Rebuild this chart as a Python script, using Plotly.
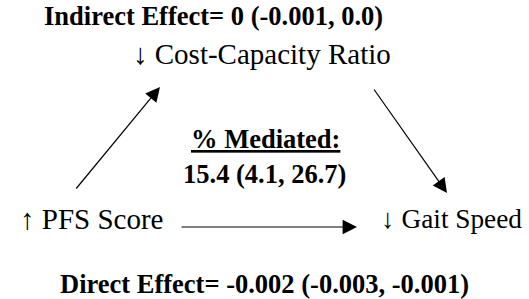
import plotly.graph_objects as go

# ---- data ----
node_labels = ["↓ Cost-Capacity Ratio", "↑ PFS Score", "↓ Gait Speed"]
node_x = [262, 91, 451]
node_y = [53.5, 218.5, 218.5]
node_font_size = [29, 29, 27.3]

effect_labels = [
    "<b>Indirect Effect= 0 (-0.001, 0.0)</b>",
    "<b><span style=\"text-decoration:underline;text-decoration-thickness:2.5px\">% Mediated:</span></b>",
    "<b>15.4 (4.1, 26.7)</b>",
    "<b>Direct Effect= -0.002 (-0.003, -0.001)</b>",
]
effect_x = [213.5, 265, 264.5, 264]
effect_y = [16, 138.5, 173.5, 284]

# arrows: start (x0,y0) -> tip (x1,y1)
arrow_x0 = [75, 373, 180]
arrow_y0 = [190, 88, 227]
arrow_x1 = [160, 447, 357]
arrow_y1 = [87, 193, 227]

FONT = "Liberation Serif"
W, H = 529, 299

fig = go.Figure()
fig.add_trace(go.Scatter(x=[0, W], y=[0, H], mode="markers",
                         marker=dict(opacity=0), hoverinfo="skip", showlegend=False))

for lab, x, y, fs in zip(node_labels, node_x, node_y, node_font_size):
    fig.add_annotation(x=x, y=y, xref="x", yref="y", text=lab, showarrow=False,
                       xanchor="center", yanchor="middle",
                       font=dict(family=FONT, size=fs, color="black"))

for lab, x, y in zip(effect_labels, effect_x, effect_y):
    fig.add_annotation(x=x, y=y, xref="x", yref="y", text=lab, showarrow=False,
                       xanchor="center", yanchor="middle",
                       font=dict(family=FONT, size=26.5, color="black"))

for x0, y0, x1, y1 in zip(arrow_x0, arrow_y0, arrow_x1, arrow_y1):
    fig.add_annotation(x=x1, y=y1, xref="x", yref="y", ax=x0, ay=y0,
                       axref="x", ayref="y", text="", showarrow=True,
                       arrowhead=2, arrowsize=2.4, arrowwidth=1.2,
                       arrowcolor="black", standoff=0, startstandoff=0)

fig.update_layout(
    width=W, height=H, margin=dict(l=0, r=0, t=0, b=0),
    paper_bgcolor="white", plot_bgcolor="white",
    xaxis=dict(range=[0, W], visible=False, fixedrange=True),
    yaxis=dict(range=[H, 0], visible=False, fixedrange=True),
    showlegend=False,
)
fig.write_html("out.html", config={"displayModeBar": False},
               post_script="document.body.style.margin='0';document.body.style.overflow='hidden';")
